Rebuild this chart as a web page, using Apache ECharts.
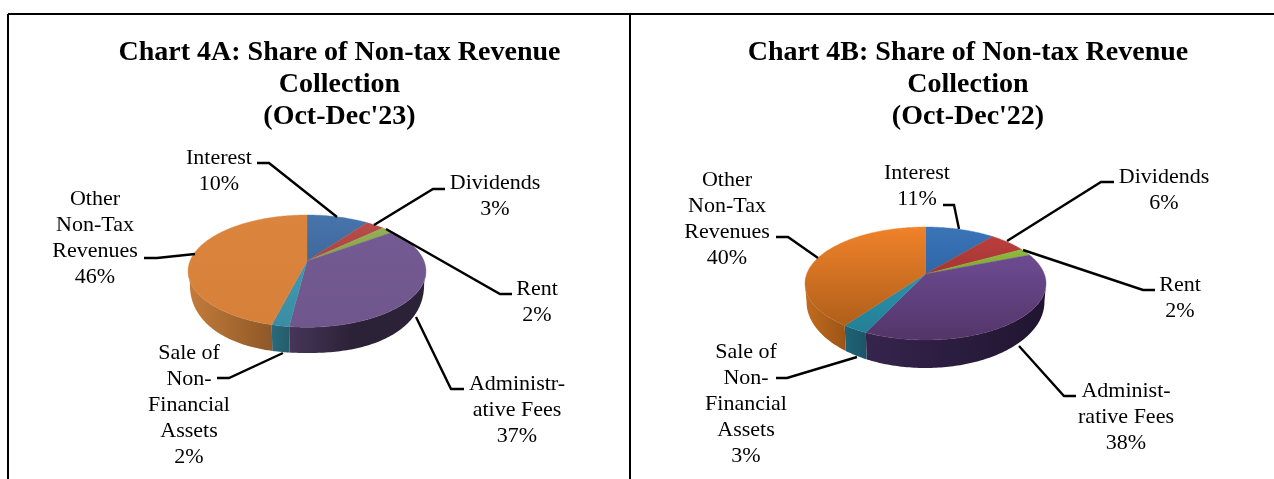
<!DOCTYPE html>
<html><head><meta charset="utf-8">
<style>html,body{margin:0;padding:0;background:#fff}#c{width:1274px;height:479px}</style>
<script src="https://cdn.jsdelivr.net/npm/echarts@6/dist/echarts.min.js"></script>
</head><body><div id="c"></div>
<script>
const categories = ['Interest','Dividends','Rent','Administrative Fees','Sale of Non-Financial Assets','Other Non-Tax Revenues'];
const sharesA = [10,3,2,37,2,46];
const sharesB = [11,6,2,38,3,40];
const titleA = "Chart 4A: Share of Non-tax Revenue\nCollection\n(Oct-Dec'23)";
const titleB = "Chart 4B: Share of Non-tax Revenue\nCollection\n(Oct-Dec'22)";
const labelNamesA = ['Interest','Dividends','Rent','Administr-\native Fees','Sale of\nNon-\nFinancial\nAssets','Other\nNon-Tax\nRevenues'];
const labelNamesB = ['Interest','Dividends','Rent','Administ-\nrative Fees','Sale of\nNon-\nFinancial\nAssets','Other\nNon-Tax\nRevenues'];

const SERIF = '"Liberation Serif","Times New Roman",serif';
const LG = echarts.graphic.LinearGradient;
const v = (a,b)=>new LG(0,0,0,1,[{offset:0,color:a},{offset:1,color:b}]);
const h = (a,b,c)=>new LG(0,0,1,0,c?[{offset:0,color:a},{offset:0.45,color:b},{offset:1,color:c}]:[{offset:0,color:a},{offset:1,color:b}]);

const layoutA = {
  cx:307, cy:261, R:117, Ry:54.3, k:0.18, scale:0.985, yb:283, rb:70, p:2.25,
  top:[v('#4674ab','#40699c'),v('#b84c4a','#a94442'),v('#93b152','#86a248'),v('#745a92','#6f568c'),v('#409ab2','#3a8ca3'),v('#da843e','#d6803a')],
  wall:[h('#2f5078','#2f5078'),h('#7a2f2e','#7a2f2e'),h('#5f7532','#5f7532'),h('#463659','#2c2238','#2c2238'),h('#2a6a7c','#265c6c'),h('#c47c3a','#8e5828')],
  labels:[[219,158],[495,183],[537,289],[517,384],[189,353],[95,199]],
  leaders:[
    [[257,163],[269,163],[337,217]],
    [[445,189],[433,189],[374,225]],
    [[386,229],[500,294],[512,294]],
    [[416,317],[451,389],[464,389]],
    [[283,353],[229,378],[217,378]],
    [[144,258],[157,258],[195,254]]
  ]
};
const layoutB = {
  cx:925.5, cy:274, R:118.8, Ry:54.9, k:0.168, scale:0.987, yb:302, rb:66, p:2,
  top:[v('#3a75b8','#2f66a6'),v('#bb3f3c','#a33533'),v('#8fbb3c','#7da633'),v('#6d4b92','#533569'),v('#2a93ad','#237f96'),v('#f0822a','#b05f1a')],
  wall:[h('#26507f','#26507f'),h('#7a2a28','#7a2a28'),h('#5f7d28','#5f7d28'),h('#36244d','#201530'),h('#1f6478','#1b5465'),h('#c26c1e','#9c5416')],
  labels:[[917,173],[1164,177],[1180,285],[1126,391],[746,352],[727,180]],
  leaders:[
    [[943,205],[954,205],[959,229]],
    [[1114,182],[1101,182],[1007,241]],
    [[1023,250],[1143,290],[1155,290]],
    [[1019,346],[1064,396],[1076,396]],
    [[857,357],[787,378],[776,378]],
    [[776,237],[788,237],[818,258]]
  ]
};

function rim(L,deg){
  const t=deg*Math.PI/180, w=1+L.k*Math.cos(t);
  return [L.cx+L.R*Math.sin(t)/w, L.cy-L.Ry*Math.cos(t)/w];
}
function rimBottom(L,deg){
  const t=deg*Math.PI/180, w=1+L.k*Math.cos(t);
  const a=L.R/Math.sqrt(1-L.k*L.k);
  const u=L.R*Math.sin(t)/w/a;
  const q=Math.max(0,1-Math.pow(Math.abs(u),L.p));
  return [L.cx+u*a*L.scale, L.yb+L.rb*Math.pow(q,1/L.p)];
}
function rows(shares){let c=0;return shares.map((s,i)=>{const r=[c,c+s,i];c+=s;return r;});}

function pieSeries(shares,L){
  const alpha=Math.asin(L.k)*180/Math.PI;
  return {
    type:'custom', coordinateSystem:'none', silent:true, animation:false,
    data:rows(shares),
    renderItem:function(p,api){
      const a0=api.value(0)*3.6, a1=api.value(1)*3.6, i=api.value(2), kids=[];
      const lo=Math.max(a0,90+alpha), hi=Math.min(a1,270-alpha);
      if(hi>lo){
        const up=[],dn=[];
        for(let d=lo;d<hi;d+=1){up.push(rim(L,d));dn.push(rimBottom(L,d));}
        up.push(rim(L,hi));dn.push(rimBottom(L,hi));
        kids.push({type:'polygon',z2:1,shape:{points:up.concat(dn.reverse())},style:{fill:L.wall[i]}});
      }
      const pts=[[L.cx,L.cy]];
      for(let d=a0;d<a1;d+=1)pts.push(rim(L,d));
      pts.push(rim(L,a1));
      kids.push({type:'polygon',z2:5,shape:{points:pts},style:{fill:L.top[i],stroke:L.top[i],lineWidth:0.4}});
      return {type:'group',children:kids};
    }
  };
}
function overlay(shares,names,L){
  const out=[];
  shares.forEach((s,i)=>{
    out.push({type:'polyline',z:20,shape:{points:L.leaders[i]},style:{stroke:'#000',lineWidth:2.4,fill:null}});
    out.push({type:'text',z:21,x:L.labels[i][0],y:L.labels[i][1]-13,style:{
      text:names[i]+'\n'+s+'%',font:'22px '+SERIF,fill:'#000',align:'center',verticalAlign:'top',lineHeight:26,textAlign:'center'}});
  });
  return out;
}
const borders=[
  [[8,14],[1274,14]],
  [[8,14],[8,479]],
  [[630,14],[630,479]]
].map(p=>({type:'polyline',z:30,shape:{points:p},style:{stroke:'#000',lineWidth:2,fill:null}}));

const chart=echarts.init(document.getElementById('c'),null,{renderer:'canvas'});
const titleStyle={fontFamily:SERIF,fontWeight:'bold',fontSize:28,color:'#000',lineHeight:32,align:'center'};
chart.setOption({
  animation:false,
  backgroundColor:'#fff',
  title:[
    {text:titleA,left:334.5,top:32,textAlign:'center',textStyle:titleStyle},
    {text:titleB,left:963,top:32,textAlign:'center',textStyle:titleStyle}
  ],
  series:[pieSeries(sharesA,layoutA),pieSeries(sharesB,layoutB)],
  graphic:{elements:borders.concat(overlay(sharesA,labelNamesA,layoutA),overlay(sharesB,labelNamesB,layoutB))}
});
</script></body></html>
